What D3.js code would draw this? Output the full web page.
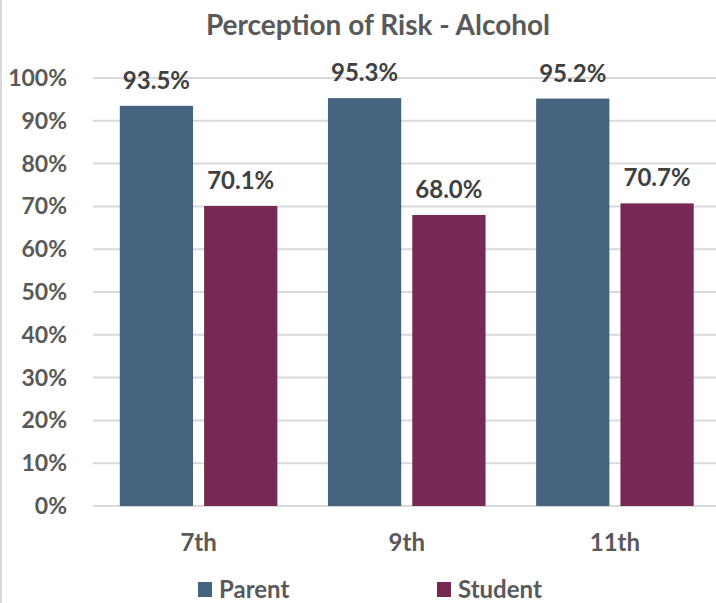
<!DOCTYPE html>
<html>
<head>
<meta charset="utf-8">
<script src="https://cdn.jsdelivr.net/npm/d3@7"></script>
<style>
  body { margin: 0; background: #fff; }
  svg { display: block; font-family: Lato, "Open Sans", sans-serif; }
</style>
</head>
<body>
<svg id="chart" width="716" height="603"></svg>
<script>
// data
var grades = ["7th", "9th", "11th"];
var series = ["Parent", "Student"];
var parentVals = [93.5, 95.3, 95.2];
var studentVals = [70.1, 68.0, 70.7];
var yTicks = [0, 10, 20, 30, 40, 50, 60, 70, 80, 90, 100];

var colors = { Parent: "#46637f", Student: "#772953" };

var svg = d3.select("#chart");

// thin frame line on the left
svg.append("rect").attr("x", 0).attr("y", 0).attr("width", 2).attr("height", 603).attr("fill", "#d9d9d9");

var x = d3.scaleBand().domain(grades).range([94.5, 719]).paddingInner(0).paddingOuter(0);
var xs = d3.scaleBand().domain(series).range([0, x.bandwidth()]).paddingInner(0.131).paddingOuter(0.3);
var y = d3.scaleLinear().domain([0, 100]).range([506, 78]);

// gridlines
svg.append("g").selectAll("line").data(yTicks).join("line")
    .attr("x1", 93).attr("x2", 716)
    .attr("y1", d => y(d)).attr("y2", d => y(d))
    .attr("stroke", "#d9d9d9").attr("stroke-width", 2);

// y labels
svg.append("g").selectAll("text").data(yTicks).join("text")
    .attr("x", 67).attr("y", d => y(d))
    .attr("dy", "0.35em")
    .attr("text-anchor", "end")
    .attr("font-size", 23).attr("font-weight", "bold").attr("fill", "#595959")
    .text(d => d + "%");

// bars
var rows = grades.map((g, i) => ({ grade: g, Parent: parentVals[i], Student: studentVals[i] }));

var groups = svg.append("g").selectAll("g").data(rows).join("g")
    .attr("transform", d => "translate(" + x(d.grade) + ",0)");

groups.selectAll("rect").data(d => series.map(s => ({ key: s, value: d[s] }))).join("rect")
    .attr("x", d => xs(d.key))
    .attr("width", xs.bandwidth())
    .attr("y", d => y(d.value))
    .attr("height", d => y(0) - y(d.value))
    .attr("fill", d => colors[d.key]);

groups.selectAll("text.val").data(d => series.map(s => ({ key: s, value: d[s] }))).join("text")
    .attr("class", "val")
    .attr("x", d => xs(d.key) + xs.bandwidth() / 2)
    .attr("y", d => y(d.value) - 17)
    .attr("text-anchor", "middle")
    .attr("font-size", 24).attr("font-weight", "bold").attr("fill", "#404040")
    .text(d => d.value.toFixed(1) + "%");

// x labels
svg.append("g").selectAll("text").data(grades).join("text")
    .attr("x", d => x(d) + x.bandwidth() / 2)
    .attr("y", 543)
    .attr("dy", "0.35em")
    .attr("text-anchor", "middle")
    .attr("font-size", 24).attr("font-weight", "bold").attr("fill", "#595959")
    .text(d => d);

// title
svg.append("text")
    .attr("x", 378).attr("y", 25).attr("dy", "0.35em")
    .attr("text-anchor", "middle")
    .attr("font-size", 28).attr("font-weight", "bold").attr("fill", "#595959")
    .text("Perception of Risk - Alcohol");

// legend
var legendX = [198, 437];
var legend = svg.append("g").selectAll("g").data(series).join("g")
    .attr("transform", (d, i) => "translate(" + legendX[i] + ",582)");
legend.append("rect").attr("width", 14).attr("height", 15).attr("fill", d => colors[d]);
legend.append("text")
    .attr("x", 21).attr("y", 8).attr("dy", "0.35em")
    .attr("font-size", 24).attr("font-weight", "bold").attr("fill", "#595959")
    .text(d => d);
</script>
</body>
</html>
